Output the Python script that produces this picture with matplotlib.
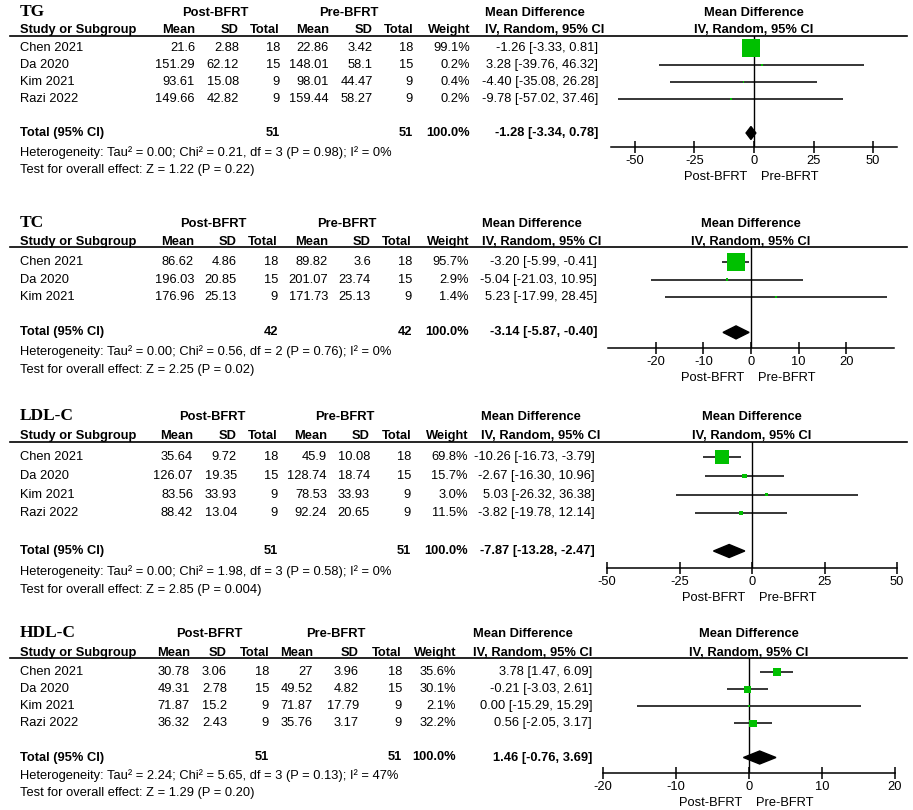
import matplotlib.pyplot as plt
from matplotlib.patches import Polygon
from matplotlib.transforms import blended_transform_factory

plt.rcParams['font.family'] = ['Liberation Sans', 'DejaVu Sans']
plt.rcParams['font.size'] = 9.3

# ---- data ----
studies_tg = ["Chen 2021", "Da 2020", "Kim 2021", "Razi 2022"]
post_mean_tg = [21.6, 151.29, 93.61, 149.66]
post_sd_tg = [2.88, 62.12, 15.08, 42.82]
post_n_tg = [18, 15, 9, 9]
pre_mean_tg = [22.86, 148.01, 98.01, 159.44]
pre_sd_tg = [3.42, 58.1, 44.47, 58.27]
pre_n_tg = [18, 15, 9, 9]
weight_tg = [99.1, 0.2, 0.4, 0.2]
md_tg = [-1.26, 3.28, -4.40, -9.78]
lo_tg = [-3.33, -39.76, -35.08, -57.02]
hi_tg = [0.81, 46.32, 26.28, 37.46]
total_tg = [51, 51, -1.28, -3.34, 0.78]
het_tg = ["0.00", "0.21", 3, "0.98", 0]
test_tg = ["1.22", "0.22"]

studies_tc = ["Chen 2021", "Da 2020", "Kim 2021"]
post_mean_tc = [86.62, 196.03, 176.96]
post_sd_tc = [4.86, 20.85, 25.13]
post_n_tc = [18, 15, 9]
pre_mean_tc = [89.82, 201.07, 171.73]
pre_sd_tc = [3.6, 23.74, 25.13]
pre_n_tc = [18, 15, 9]
weight_tc = [95.7, 2.9, 1.4]
md_tc = [-3.20, -5.04, 5.23]
lo_tc = [-5.99, -21.03, -17.99]
hi_tc = [-0.41, 10.95, 28.45]
total_tc = [42, 42, -3.14, -5.87, -0.40]
het_tc = ["0.00", "0.56", 2, "0.76", 0]
test_tc = ["2.25", "0.02"]

studies_ldl = ["Chen 2021", "Da 2020", "Kim 2021", "Razi 2022"]
post_mean_ldl = [35.64, 126.07, 83.56, 88.42]
post_sd_ldl = [9.72, 19.35, 33.93, 13.04]
post_n_ldl = [18, 15, 9, 9]
pre_mean_ldl = [45.9, 128.74, 78.53, 92.24]
pre_sd_ldl = [10.08, 18.74, 33.93, 20.65]
pre_n_ldl = [18, 15, 9, 9]
weight_ldl = [69.8, 15.7, 3.0, 11.5]
md_ldl = [-10.26, -2.67, 5.03, -3.82]
lo_ldl = [-16.73, -16.30, -26.32, -19.78]
hi_ldl = [-3.79, 10.96, 36.38, 12.14]
total_ldl = [51, 51, -7.87, -13.28, -2.47]
het_ldl = ["0.00", "1.98", 3, "0.58", 0]
test_ldl = ["2.85", "0.004"]

studies_hdl = ["Chen 2021", "Da 2020", "Kim 2021", "Razi 2022"]
post_mean_hdl = [30.78, 49.31, 71.87, 36.32]
post_sd_hdl = [3.06, 2.78, 15.2, 2.43]
post_n_hdl = [18, 15, 9, 9]
pre_mean_hdl = [27, 49.52, 71.87, 35.76]
pre_sd_hdl = [3.96, 4.82, 17.79, 3.17]
pre_n_hdl = [18, 15, 9, 9]
weight_hdl = [35.6, 30.1, 2.1, 32.2]
md_hdl = [3.78, -0.21, 0.00, 0.56]
lo_hdl = [1.47, -3.03, -15.29, -2.05]
hi_hdl = [6.09, 2.61, 15.29, 3.17]
total_hdl = [51, 51, 1.46, -0.76, 3.69]
het_hdl = ["2.24", "5.65", 3, "0.13", 47]
test_hdl = ["1.29", "0.20"]

ticks_tg = [-50, -25, 0, 25, 50]
ticks_tc = [-20, -10, 0, 10, 20]
ticks_ldl = [-50, -25, 0, 25, 50]
ticks_hdl = [-20, -10, 0, 10, 20]

panels = [
    dict(name="TG", studies=studies_tg, cols=[post_mean_tg, post_sd_tg, post_n_tg, pre_mean_tg, pre_sd_tg, pre_n_tg],
         w=weight_tg, md=md_tg, lo=lo_tg, hi=hi_tg, total=total_tg, het=het_tg, test=test_tg, ticks=ticks_tg,
         xlim=(-60, 60), y=[12, 30, 36, 48, 17.0, 153, 170, 147], fx=(611, 897),
         cx=[195, 239, 280, 329, 373, 413, 470], grp=(215, 349), ci=(485, 598)),
    dict(name="TC", studies=studies_tc, cols=[post_mean_tc, post_sd_tc, post_n_tc, pre_mean_tc, pre_sd_tc, pre_n_tc],
         w=weight_tc, md=md_tc, lo=lo_tc, hi=hi_tc, total=total_tc, het=het_tc, test=test_tc, ticks=ticks_tc,
         xlim=(-30, 30), y=[223, 242, 247, 262, 17.6, 352, 370, 348], fx=(608, 894),
         cx=[194, 237, 278, 328, 371, 412, 469], grp=(213, 347), ci=(482, 597)),
    dict(name="LDL-C", studies=studies_ldl, cols=[post_mean_ldl, post_sd_ldl, post_n_ldl, pre_mean_ldl, pre_sd_ldl, pre_n_ldl],
         w=weight_ldl, md=md_ldl, lo=lo_ldl, hi=hi_ldl, total=total_ldl, het=het_ldl, test=test_ldl, ticks=ticks_ldl,
         xlim=(-50, 50), y=[416, 436, 442, 457, 18.8, 572, 590, 568], fx=(607, 897),
         cx=[193, 237, 278, 327, 370, 411, 468], grp=(212, 345), ci=(481, 595)),
    dict(name="HDL-C", studies=studies_hdl, cols=[post_mean_hdl, post_sd_hdl, post_n_hdl, pre_mean_hdl, pre_sd_hdl, pre_n_hdl],
         w=weight_hdl, md=md_hdl, lo=lo_hdl, hi=hi_hdl, total=total_hdl, het=het_hdl, test=test_hdl, ticks=ticks_hdl,
         xlim=(-20, 20), y=[633, 653, 658, 672, 17.1, 776, 793, 773], fx=(603, 895),
         cx=[190, 227, 269, 313, 359, 402, 456], grp=(209, 336), ci=(473, 592)),
]

W, H = 913, 810
fig = plt.figure(figsize=(W / 100, H / 100), dpi=100)
canvas = fig.add_axes([0, 0, 1, 1])
canvas.set_xlim(0, W)
canvas.set_ylim(H, 0)
canvas.axis('off')

GREEN = '#00C000'


def fmt(v):
    return f"{v:g}"


for p in panels:
    title_y, hdr_y, line_y, row0, sp, het_y, test_y, axis_y = p["y"]
    cx = p["cx"]
    n = len(p["studies"])

    # header
    canvas.text(20, title_y, p["name"], family='Liberation Serif', fontweight='bold', fontsize=12.5, va='center')
    canvas.text(p["grp"][0], title_y + 1, "Post-BFRT", fontweight='bold', ha='center', va='center')
    canvas.text(p["grp"][1], title_y + 1, "Pre-BFRT", fontweight='bold', ha='center', va='center')
    canvas.text(p["ci"][0], title_y + 1, "Mean Difference", fontweight='bold', va='center')
    canvas.text(20, hdr_y, "Study or Subgroup", fontweight='bold', va='center')
    for x, lab in zip(cx, ["Mean", "SD", "Total", "Mean", "SD", "Total", "Weight"]):
        canvas.text(x, hdr_y, lab, fontweight='bold', ha='right', va='center')
    canvas.text(p["ci"][0], hdr_y, "IV, Random, 95% CI", fontweight='bold', va='center')
    canvas.plot([10, 907], [line_y, line_y], color='black', lw=1.2)

    # study rows
    for i, s in enumerate(p["studies"]):
        y = row0 + i * sp
        canvas.text(20, y, s, va='center')
        for j in range(6):
            canvas.text(cx[j], y, fmt(p["cols"][j][i]), ha='right', va='center')
        canvas.text(cx[6], y, f"{p['w'][i]:.1f}%", ha='right', va='center')
        canvas.text(p["ci"][1], y, f"{p['md'][i]:.2f} [{p['lo'][i]:.2f}, {p['hi'][i]:.2f}]", ha='right', va='center')

    # total row
    n_post, n_pre, tmd, tlo, thi = p["total"]
    ty = row0 + (n + 1) * sp
    canvas.text(20, ty, "Total (95% CI)", fontweight='bold', va='center')
    canvas.text(cx[2], ty, str(n_post), fontweight='bold', ha='right', va='center')
    canvas.text(cx[5], ty, str(n_pre), fontweight='bold', ha='right', va='center')
    canvas.text(cx[6], ty, "100.0%", fontweight='bold', ha='right', va='center')
    canvas.text(p["ci"][1], ty, f"{tmd:.2f} [{tlo:.2f}, {thi:.2f}]", fontweight='bold', ha='right', va='center')
    tau, chi, df, ph, i2 = p["het"]
    canvas.text(20, het_y, f"Heterogeneity: Tau\u00b2 = {tau}; Chi\u00b2 = {chi}, df = {df} (P = {ph}); I\u00b2 = {i2}%", va='center')
    canvas.text(20, test_y, f"Test for overall effect: Z = {p['test'][0]} (P = {p['test'][1]})", va='center')

    # forest axes
    left, right = p["fx"]
    ax = fig.add_axes([left / W, 1 - axis_y / H, (right - left) / W, (axis_y - line_y) / H])
    ax.set_facecolor('none')
    ax.set_xlim(*p["xlim"])
    ax.set_ylim((axis_y - row0) / sp, (line_y - row0) / sp)
    rows = list(range(n))
    ax.axvline(0, color='black', lw=1.0, zorder=1)
    ax.hlines(rows, p["lo"], p["hi"], color='black', lw=1.1, zorder=2)
    sizes = [((1.84 + 0.173 * w) * 0.72) ** 2 for w in p["w"]]
    ax.scatter(p["md"], rows, marker='s', s=sizes, color=GREEN, edgecolors='none', zorder=3)
    h = 6.5 / sp
    ax.add_patch(Polygon([(tlo, n + 1), (tmd, n + 1 - h), (thi, n + 1), (tmd, n + 1 + h)],
                         closed=True, color='black', zorder=3))
    for side in ['top', 'left', 'right']:
        ax.spines[side].set_visible(False)
    ax.spines['bottom'].set_linewidth(1.1)
    ax.set_yticks([])
    ax.set_xticks(p["ticks"])
    ax.set_xticklabels([str(t) for t in p["ticks"]])
    ax.tick_params(axis='x', direction='inout', length=8, width=1.1, pad=1.5, labelsize=9.3)

    # forest header and side labels, centred on the zero line
    tr = blended_transform_factory(ax.transData, canvas.transData)
    canvas.text(0, title_y + 1, "Mean Difference", fontweight='bold', ha='center', va='center', transform=tr)
    canvas.text(0, hdr_y, "IV, Random, 95% CI", fontweight='bold', ha='center', va='center', transform=tr)
    canvas.annotate("Post-BFRT", xy=(0, axis_y + 30), xycoords=tr, xytext=(-5, 0),
                    textcoords='offset points', ha='right', va='center')
    canvas.annotate("Pre-BFRT", xy=(0, axis_y + 30), xycoords=tr, xytext=(5, 0),
                    textcoords='offset points', ha='left', va='center')

fig.savefig("out.png", dpi=100)
